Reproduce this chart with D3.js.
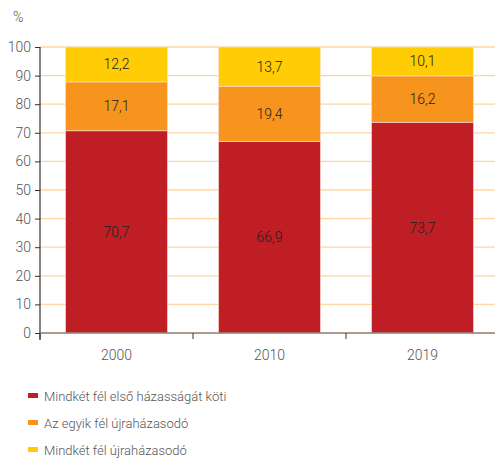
<!DOCTYPE html>
<html>
<head>
<meta charset="utf-8">
<script src="https://cdn.jsdelivr.net/npm/d3@7"></script>
<style>
  body { margin: 0; background: #fff; }
  svg text { font-family: "Roboto", sans-serif; font-weight: 300; }
</style>
</head>
<body>
<svg id="chart" width="495" height="458"></svg>
<script>
var years = ["2000", "2010", "2019"];
var seriesNames = ["Mindkét fél első házasságát köti", "Az egyik fél újraházasodó", "Mindkét fél újraházasodó"];
var firstBoth = [70.7, 66.9, 73.7];
var oneRemarry = [17.1, 19.4, 16.2];
var bothRemarry = [12.2, 13.7, 10.1];
var yTicks = [0, 10, 20, 30, 40, 50, 60, 70, 80, 90, 100];
var colors = ["#be1e24", "#f7941d", "#ffcc05"];

var svg = d3.select("#chart");
var plotLeft = 40, plotRight = 499, plotTop = 47, plotBottom = 333;

var rows = years.map(function(y, i) {
    return { year: y, a: firstBoth[i], b: oneRemarry[i], c: bothRemarry[i] };
});
var stack = d3.stack().keys(["a", "b", "c"]);
var layers = stack(rows);

var x = d3.scaleBand().domain(years).range([plotLeft, plotRight]).paddingInner(1/3).paddingOuter(1/6);
var xTick = d3.scaleBand().domain(years).range([plotLeft, plotRight]).padding(0);
var y = d3.scaleLinear().domain([0, 100]).range([plotBottom, plotTop]);

// grid
svg.append("g").selectAll("line")
    .data(yTicks.filter(function(t){ return t > 0; }))
    .enter().append("line")
    .attr("x1", plotLeft).attr("x2", 495)
    .attr("y1", function(d){ return y(d); }).attr("y2", function(d){ return y(d); })
    .style("stroke", "#fcd7a4").style("stroke-width", 1.3);

// bars
var labelVals = [firstBoth, oneRemarry, bothRemarry];
layers.forEach(function(layer, li) {
    var g = svg.append("g");
    g.selectAll("rect").data(layer).enter().append("rect")
        .attr("x", function(d){ return x(d.data.year); })
        .attr("width", x.bandwidth())
        .attr("y", function(d){ return y(d[1]); })
        .attr("height", function(d){ return y(d[0]) - y(d[1]); })
        .style("fill", colors[li])
        .style("stroke", "#fbe3dc").style("stroke-width", 0.6);
    g.selectAll("text").data(layer).enter().append("text")
        .attr("x", function(d){ return x(d.data.year) + x.bandwidth() / 2; })
        .attr("y", function(d){ return (y(d[0]) + y(d[1])) / 2 + 5; })
        .attr("text-anchor", "middle")
        .style("font-size", "14px").style("fill", "#222")
        .text(function(d, i){ return String(labelVals[li][i]).replace(".", ","); });
});

// y axis
var yAxis = d3.axisLeft(y).tickValues(yTicks).tickSize(5).tickPadding(4);
var ya = svg.append("g").attr("transform", "translate(" + plotLeft + ",0)").call(yAxis);
ya.select(".domain").attr("d", "M0," + plotTop + "V" + (plotBottom + 7)).style("stroke", "#3a302c").style("stroke-width", 1.2);
ya.selectAll(".tick line").style("stroke", "#3a302c");
ya.selectAll("text").style("font-size", "14px").style("fill", "#555").style("font-family", "Roboto, sans-serif");

// x baseline + ticks
svg.append("line").attr("x1", plotLeft).attr("x2", 495).attr("y1", plotBottom).attr("y2", plotBottom)
    .style("stroke", "#8c7b6e").style("stroke-width", 1.5);
svg.append("g").selectAll("line").data(years).enter().append("line")
    .attr("x1", function(d){ return xTick(d); }).attr("x2", function(d){ return xTick(d); })
    .attr("y1", plotBottom).attr("y2", plotBottom + 6)
    .style("stroke", "#3a302c").style("stroke-width", 1);
svg.append("g").selectAll("text").data(years).enter().append("text")
    .attr("x", function(d){ return x(d) + x.bandwidth() / 2; })
    .attr("y", 360)
    .attr("text-anchor", "middle")
    .style("font-size", "14px").style("fill", "#555")
    .text(function(d){ return d; });

svg.append("text").attr("x", 13).attr("y", 22).style("font-size", "14px").style("fill", "#555").text("%");

// legend
var leg = svg.append("g").selectAll("g").data(seriesNames).enter().append("g")
    .attr("transform", function(d, i){ return "translate(28," + (396 + i * 27) + ")"; });
leg.append("rect").attr("x", 0).attr("y", -3).attr("width", 10).attr("height", 5)
    .style("fill", function(d, i){ return colors[i]; });
leg.append("text").attr("x", 16).attr("y", 5)
    .style("font-size", "13px").style("fill", "#555")
    .text(function(d){ return d; });
</script>
</body>
</html>
